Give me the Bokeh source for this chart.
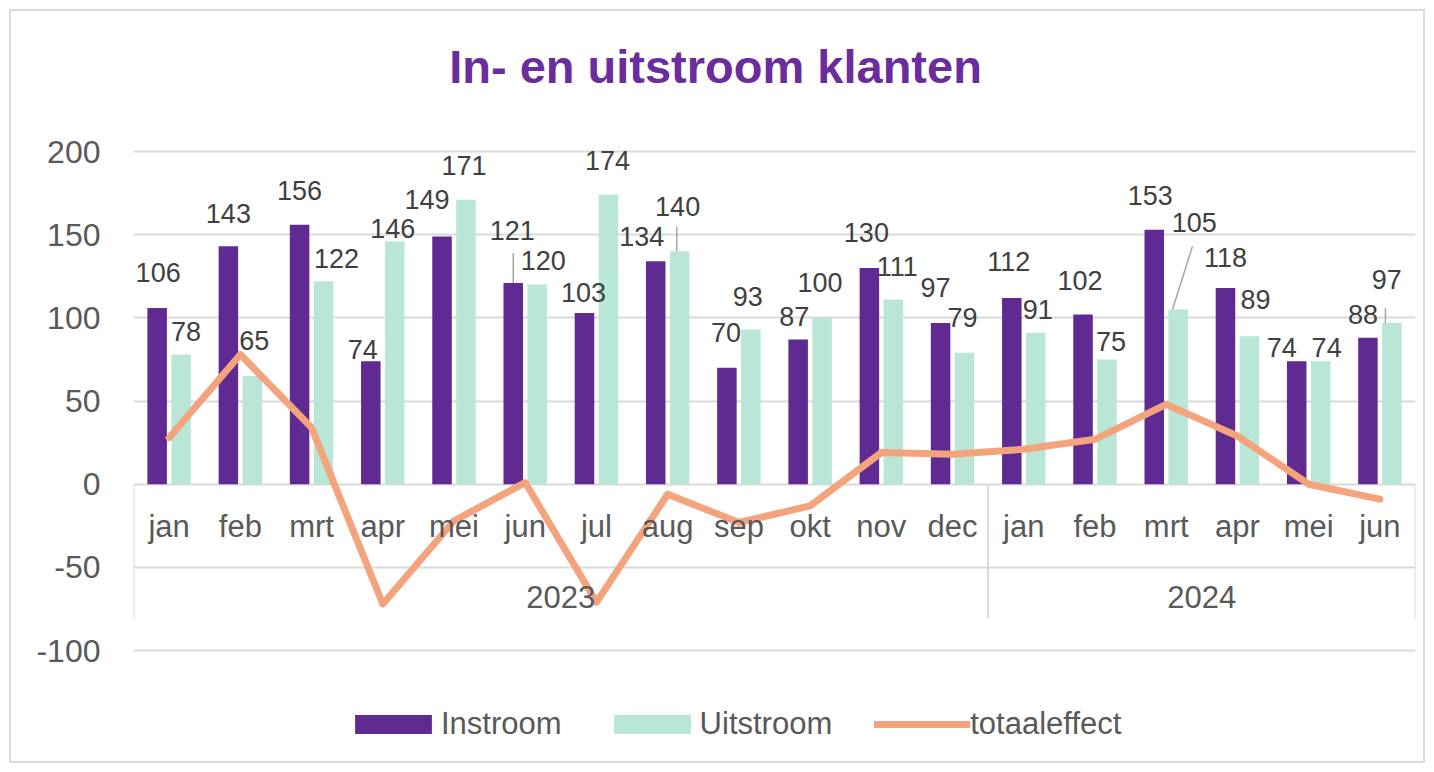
from bokeh.plotting import figure
from bokeh.models import (ColumnDataSource, FactorRange, Range1d, FixedTicker,
                          Legend, LegendItem, Label)
from bokeh.transform import dodge
from bokeh.core.properties import value
from bokeh.embed import file_html
from bokeh.resources import INLINE

# ---------------- data ----------------
title_text = "In- en uitstroom klanten"
years = ["2023"] * 12 + ["2024"] * 6
months = ["jan", "feb", "mrt", "apr", "mei", "jun", "jul", "aug", "sep", "okt", "nov", "dec",
          "jan", "feb", "mrt", "apr", "mei", "jun"]
year_labels = ["2023", "2024"]
instroom = [106, 143, 156, 74, 149, 121, 103, 134, 70, 87, 130, 97, 112, 102, 153, 118, 74, 88]
uitstroom = [78, 65, 122, 146, 171, 120, 174, 140, 93, 100, 111, 79, 91, 75, 105, 89, 74, 97]
totaaleffect = [28, 78, 34, -72, -22, 1, -71, -6, -23, -13, 19, 18, 21, 27, 48, 29, 0, -9]
series_names = ["Instroom", "Uitstroom", "totaaleffect"]
y_ticks = [-100, -50, 0, 50, 100, 150, 200]
y_tick_labels = ["-100", "-50", "0", "50", "100", "150", "200"]

# ---------------- styles ----------------
PURPLE = "#5F2A91"
MINT = "#B9E6D7"
ORANGE = "#F4A47C"
TITLE_COLOR = "#6B2D9E"
AXIS_TXT = "#595959"
LABEL_TXT = "#404040"
GRID = "#D9D9D9"
FONT = "Liberation Sans"
BAR_OFF = 0.168
BAR_W = 0.274

# data-label pixel offsets (manual placement as in the reference)
in_dx = [1, 0, 0, -8, -15, -1, -1, -14, -1, -4, -3, -5, -3, -3, -4, 0, -15, -5]
in_dy = [35, 33, 34, 12, 37, 52, 20, 25, 35, 23, 35, 35, 36, 34, 34, 30, 14, 23]
out_dx = [5, 2, 13, -2, -2, 6, -1, -2, -3, -2, 4, -2, 2, 4, 16, 6, 6, -5]
out_dy = [23, 36, 23, 13, 34, 24, 34, 45, 33, 35, 33, 35, 23, 18, 87, 37, 14, 43]

factors = list(zip(years, months))

src = ColumnDataSource(dict(
    x=factors, month=months, instroom=instroom, uitstroom=uitstroom, totaal=totaaleffect,
    in_txt=[str(v) for v in instroom], out_txt=[str(v) for v in uitstroom],
    in_xo=in_dx, in_yo=[-d for d in in_dy], out_xo=out_dx, out_yo=[-d for d in out_dy],
))

# the frame spans the full height of the chart box so title and legend live inside it
p = figure(width=1416, height=754,
           x_range=FactorRange(*factors, range_padding=0, group_padding=0, factor_padding=0),
           y_range=Range1d(-169.1, 284.2),
           x_axis_location=None,
           output_backend="svg", toolbar_location=None,
           min_border_left=122, min_border_right=12, min_border_top=0, min_border_bottom=0,
           background_fill_color="white", border_fill_color="white",
           styles={"border": "2px solid #D9D9D9"})
p.margin = (9, 0, 0, 9)
p.outline_line_color = None
p.xgrid.visible = False

# y axis
p.yaxis.ticker = FixedTicker(ticks=y_ticks)
p.yaxis.major_label_overrides = {t: l for t, l in zip(y_ticks, y_tick_labels)}
p.yaxis.axis_line_color = None
p.yaxis.major_tick_line_color = None
p.yaxis.major_tick_out = 0
p.yaxis.major_tick_in = 0
p.yaxis.minor_tick_line_color = None
p.yaxis.major_label_standoff = 33
p.yaxis.major_label_text_font_size = "32px"
p.yaxis.major_label_text_font = FONT
p.yaxis.major_label_text_color = AXIS_TXT
p.ygrid.ticker = FixedTicker(ticks=y_ticks)
p.ygrid.grid_line_color = GRID
p.ygrid.grid_line_width = 2

# category-axis box separators
n23 = years.count("2023")
n_all = len(factors)
sep_x = [0, n23, n_all]
p.segment(x0=sep_x, y0=[0] * 3, x1=sep_x, y1=[-80.5] * 3, line_color=GRID, line_width=2)

# bars
r_in = p.vbar(x=dodge("x", -BAR_OFF, range=p.x_range), top="instroom", width=BAR_W,
              source=src, fill_color=PURPLE, line_color=None)
r_out = p.vbar(x=dodge("x", BAR_OFF, range=p.x_range), top="uitstroom", width=BAR_W,
               source=src, fill_color=MINT, line_color=None)

# line
r_line = p.line(x="x", y="totaal", source=src, line_color=ORANGE, line_width=7,
                line_join="round", line_cap="round")

# leader lines: (series, index, x-offset at bar, x-offset at label end, length in data units)
leaders = [("in", 5, 0.0, 0.0, 18), ("out", 7, -0.04, -0.04, 15),
           ("out", 14, -0.08, 0.2, 38), ("out", 17, -0.09, -0.09, 9)]
lx0, ly0, lx1, ly1 = [], [], [], []
for s, i, xo0, xo1, ln in leaders:
    base = i + 0.5 + (-BAR_OFF if s == "in" else BAR_OFF)
    v = instroom[i] if s == "in" else uitstroom[i]
    lx0.append(base + xo0); ly0.append(v)
    lx1.append(base + xo1); ly1.append(v + ln)
p.segment(x0=lx0, y0=ly0, x1=lx1, y1=ly1, line_color="#A6A6A6", line_width=1.5)

# data labels
p.text(x=dodge("x", -BAR_OFF, range=p.x_range), y="instroom", text="in_txt",
       x_offset="in_xo", y_offset="in_yo", source=src,
       text_align="center", text_baseline="middle", text_font=value(FONT),
       text_font_size="27px", text_color=LABEL_TXT)
p.text(x=dodge("x", BAR_OFF, range=p.x_range), y="uitstroom", text="out_txt",
       x_offset="out_xo", y_offset="out_yo", source=src,
       text_align="center", text_baseline="middle", text_font=value(FONT),
       text_font_size="27px", text_color=LABEL_TXT)

# category labels (months and years)
p.text(x="x", y=-25.2, text="month", source=src, text_align="center", text_baseline="middle",
       text_font=value(FONT), text_font_size="31px", text_color=AXIS_TXT)
p.text(x=year_labels, y=[-68] * len(year_labels), text=year_labels, text_align="center",
       text_baseline="middle", text_font=value(FONT), text_font_size="31px", text_color=AXIS_TXT)

# title
p.add_layout(Label(x=582, y=699, x_units="screen", y_units="screen", text=title_text,
                   text_align="center", text_baseline="middle", text_font=FONT,
                   text_font_size="47px", text_font_style="bold", text_color=TITLE_COLOR))

# legend
legend = Legend(items=[LegendItem(label=series_names[0], renderers=[r_in]),
                       LegendItem(label=series_names[1], renderers=[r_out]),
                       LegendItem(label=series_names[2], renderers=[r_line])],
                orientation="horizontal", location=(212, 23),
                glyph_width=96, glyph_height=24, label_height=24, label_standoff=0, spacing=42,
                padding=0, margin=0, border_line_color=None, background_fill_alpha=0,
                label_text_font=FONT, label_text_font_size="31px", label_text_color=AXIS_TXT)
p.add_layout(legend, "center")

open("out.html", "w").write(file_html(p, INLINE))
